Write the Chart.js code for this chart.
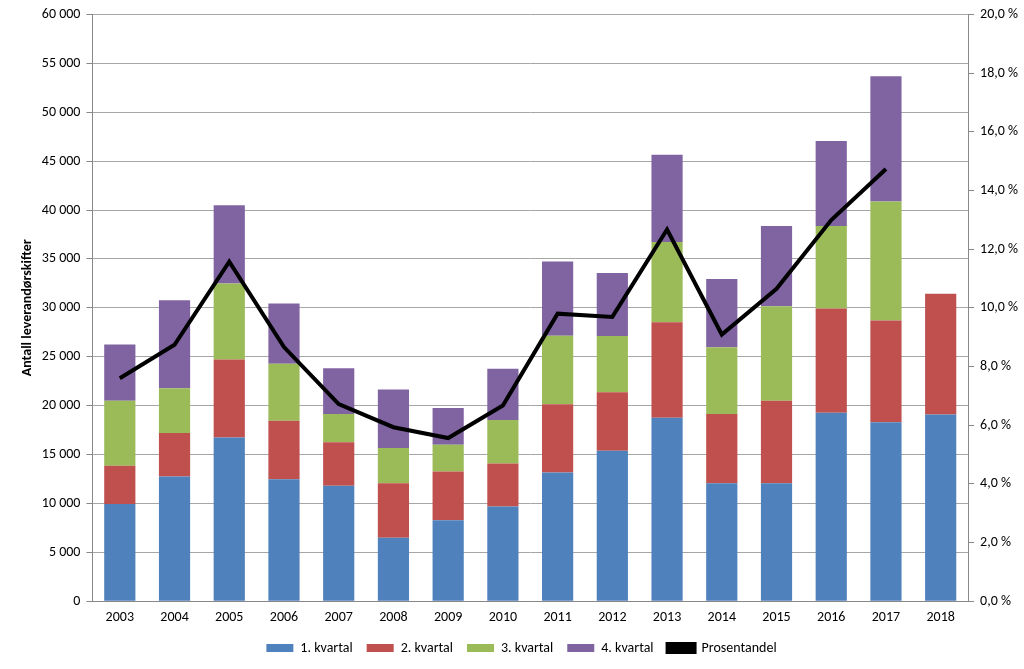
<!DOCTYPE html>
<html>
<head>
<meta charset="utf-8">
<script src="https://cdn.jsdelivr.net/npm/chart.js@4"></script>
<style>
html,body{margin:0;padding:0;background:#fff;}
#wrap{width:1024px;height:669px;}
</style>
</head>
<body>
<div id="wrap"><canvas id="c" width="1024" height="669"></canvas></div>
<script>
const years = ["2003","2004","2005","2006","2007","2008","2009","2010","2011","2012","2013","2014","2015","2016","2017","2018"];
const q1 = [9950,12750,16750,12480,11800,6500,8270,9680,13160,15380,18770,12050,12070,19270,18300,19080];
const q2 = [3900,4450,7970,5980,4440,5570,5000,4400,6980,5990,9740,7100,8430,10670,10400,12350];
const q3 = [6650,4580,7760,5810,2910,3590,2730,4450,7010,5740,8210,6810,9650,8430,12180,0];
const q4 = [5750,8990,8000,6160,4680,5980,3760,5230,7580,6460,8920,6990,8220,8680,12790,0];
const pct = [7.6,8.74,11.57,8.66,6.72,5.93,5.56,6.67,9.8,9.69,12.67,9.09,10.65,12.99,14.73,null];
const leftTicks = [0,5000,10000,15000,20000,25000,30000,35000,40000,45000,50000,55000,60000];
const rightTicks = [0,2,4,6,8,10,12,14,16,18,20];

const FONT = "Carlito, Lato, 'Liberation Sans', sans-serif";
Chart.defaults.font.family = FONT;
Chart.defaults.font.size = 14;
Chart.defaults.color = "#000";

function fmtThousands(v){
  return String(Math.round(v)).replace(/\B(?=(\d{3})+(?!\d))/g, " ");
}

const barOpts = {barPercentage:0.57, categoryPercentage:1.0, borderWidth:0, yAxisID:'y', type:'bar', order:2};

new Chart(document.getElementById('c'), {
  data: {
    labels: years,
    datasets: [
      Object.assign({label:"1. kvartal", data:q1, backgroundColor:"#4F81BD"}, barOpts),
      Object.assign({label:"2. kvartal", data:q2.map((v)=>v||null), backgroundColor:"#C0504D"}, barOpts),
      Object.assign({label:"3. kvartal", data:q3.map((v)=>v||null), backgroundColor:"#9BBB59"}, barOpts),
      Object.assign({label:"4. kvartal", data:q4.map((v)=>v||null), backgroundColor:"#8064A2"}, barOpts),
      {type:'line', label:"Prosentandel", data:pct, yAxisID:'y2', borderColor:"#000", backgroundColor:"#000",
       borderWidth:4, pointRadius:0, pointHoverRadius:0, tension:0, order:1, spanGaps:false}
    ]
  },
  options: {
    responsive:false,
    animation:false,
    layout:{padding:{left:19, right:0, top:8, bottom:4}},
    plugins:{
      legend:{
        position:'bottom',
        labels:{boxWidth:27, boxHeight:8, padding:14, font:{size:14, family:FONT}, color:"#000",
                sort:(a,b)=>a.datasetIndex-b.datasetIndex}
      },
      tooltip:{enabled:false}
    },
    scales:{
      x:{
        stacked:true,
        grid:{display:false, drawTicks:false},
        border:{display:true, color:"#888"},
        ticks:{padding:8, font:{size:14}},
        afterFit:(s)=>{ s.height -= 7; }
      },
      y:{
        stacked:true,
        position:'left',
        min:0, max:60000,
        afterBuildTicks:(s)=>{ s.ticks = leftTicks.map(v=>({value:v})); },
        ticks:{callback:(v)=>fmtThousands(v), padding:6, font:{size:14}},
        grid:{color:"#A6A6A6", lineWidth:1, tickLength:6, tickColor:"#888"},
        border:{display:true, color:"#888"},
        title:{display:true, text:"Antall leverandørskifter", font:{size:14, weight:'bold'}, padding:{top:0,bottom:0}}
      },
      y2:{
        position:'right',
        min:0, max:20,
        afterBuildTicks:(s)=>{ s.ticks = rightTicks.map(v=>({value:v})); },
        ticks:{callback:(v)=>v.toFixed(1).replace('.',',')+' %', padding:6, font:{size:14}},
        grid:{drawOnChartArea:false, tickLength:6, color:"#888"},
        border:{display:true, color:"#888"}
      }
    }
  }
});
</script>
</body>
</html>
